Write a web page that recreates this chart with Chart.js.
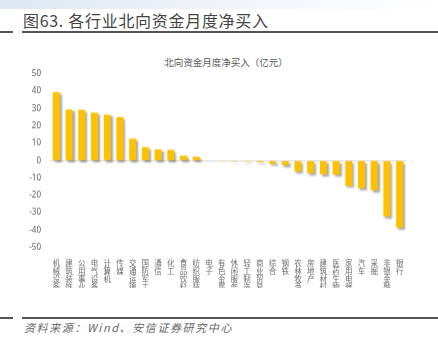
<!DOCTYPE html>
<html>
<head>
<meta charset="utf-8">
<style>
  body { margin: 0; width: 438px; height: 354px; background: #fff; position: relative; overflow: hidden;
         font-family: "Noto Sans CJK SC", "Noto Sans", sans-serif; }
  .band { position: absolute; left: 0; top: 0; width: 438px; height: 9px;
          background: linear-gradient(to right, #dde7f2, #f3f6fa 60%, #fff); }
  .title { position: absolute; left: 23px; top: 8px; font-size: 16px; letter-spacing: 0.7px; font-weight: 400; color: #444; white-space: nowrap; }
  .rule { position: absolute; height: 2px; background: #555; }
  .sub { position: absolute; left: 0; width: 452px; top: 55px; text-align: center; font-size: 9.5px; color: #595959; }
  .src { position: absolute; left: 24px; top: 319px; font-size: 11px; letter-spacing: 1.6px; font-style: italic; color: #666; white-space: nowrap; }
  #wrap { position: absolute; left: 0; top: 60.2px; width: 438px; height: 239.8px; }
</style>
</head>
<body>
<div class="band"></div>
<div class="title">图63. 各行业北向资金月度净买入</div>
<div class="rule" style="left:0;width:13px;top:31px"></div>
<div class="rule" style="left:22px;width:416px;top:31px"></div>
<div class="sub">北向资金月度净买入（亿元）</div>
<div id="wrap"><canvas id="grafica"></canvas></div>
<div class="rule" style="left:0;width:13px;top:317px"></div>
<div class="rule" style="left:22px;width:416px;top:317px"></div>
<div class="src">资料来源：Wind、安信证券研究中心</div>

<script src="https://cdn.jsdelivr.net/npm/chart.js"></script>
<script>
// sectores (eje X) y compras netas mensuales (亿元)
const sectores = ["机械设备", "建筑装饰", "公用事业", "电气设备", "计算机", "传媒", "交通运输",
  "国防军工", "通信", "化工", "食品饮料", "纺织服装", "电子", "有色金属", "休闲服务", "轻工制造",
  "商业贸易", "综合", "钢铁", "农林牧渔", "房地产", "建筑材料", "医药生物", "家用电器", "汽车",
  "采掘", "非银金融", "银行"];
const compraNeta = [39.5, 29.5, 29.3, 27.7, 26.5, 25.2, 12.8, 7.8, 6.6, 6.2, 2.9, 2.3,
  -0.2, -0.4, -0.5, -0.6, -0.8, -1.7, -2.6, -6.2, -7.2, -7.8, -8.1, -14.5, -15.9, -17, -32, -38.4];
const ejeY = { min: -50, max: 50, paso: 10 };

// etiquetas verticales: un caracter por linea
const etiquetas = sectores.map(s => s.split(""));

const sombra = {
  id: "sombra",
  beforeDatasetsDraw(chart) {
    const ctx = chart.ctx;
    ctx.save();
    ctx.shadowColor = "rgba(0,0,0,0.35)";
    ctx.shadowOffsetX = 2;
    ctx.shadowOffsetY = 2;
    ctx.shadowBlur = 2;
  },
  afterDatasetsDraw(chart) {
    chart.ctx.restore();
  }
};

new Chart(document.getElementById("grafica"), {
  type: "bar",
  data: {
    labels: etiquetas,
    datasets: [{
      data: compraNeta,
      backgroundColor: "#FFC000",
      barPercentage: 0.55,
      categoryPercentage: 1
    }]
  },
  plugins: [sombra],
  options: {
    responsive: true,
    maintainAspectRatio: false,
    animation: false,
    layout: { padding: { top: 6, right: 32, bottom: 13, left: 0 } },
    plugins: { legend: { display: false }, tooltip: { enabled: false } },
    scales: {
      x: {
        grid: { display: false },
        border: { display: false },
        afterFit(scale) { scale.height = 40; },
        ticks: {
          maxRotation: 0,
          minRotation: 0,
          autoSkip: false,
          padding: 3,
          color: "#6a6a6a",
          font: { family: "Noto Sans CJK SC", size: 7.5, lineHeight: 1.08 }
        }
      },
      y: {
        min: ejeY.min,
        max: ejeY.max,
        border: { display: false },
        afterFit(scale) { scale.width = 50; },
        grid: {
          drawTicks: false,
          color: c => c.tick.value === 0 ? "#d9d9d9" : "rgba(0,0,0,0)"
        },
        ticks: {
          stepSize: ejeY.paso,
          padding: 9,
          color: "#595959",
          font: { family: "Noto Sans", size: 8 }
        }
      }
    }
  }
});
</script>
</body>
</html>
